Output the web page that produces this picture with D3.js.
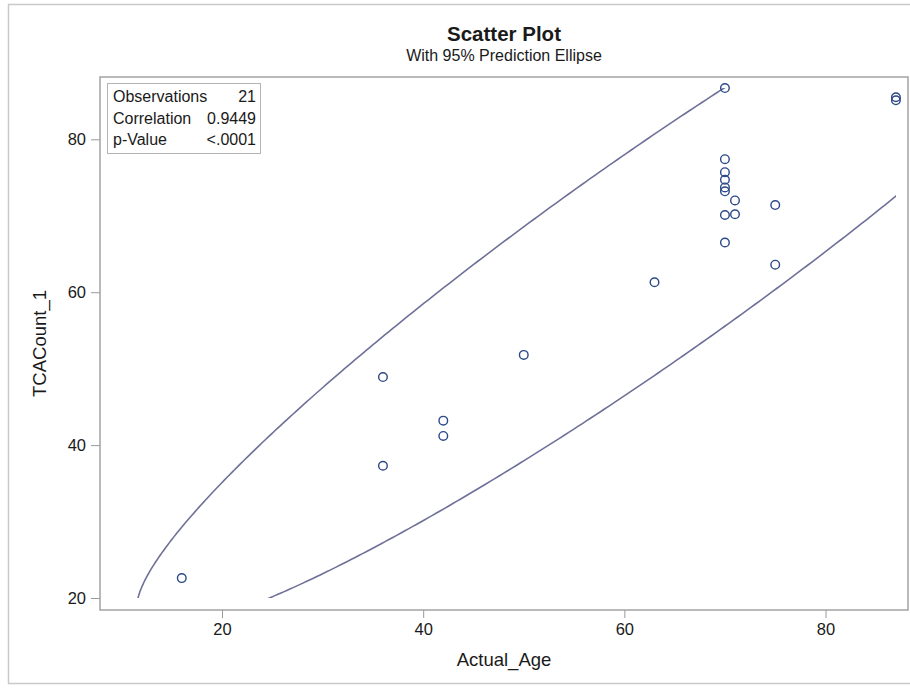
<!DOCTYPE html>
<html>
<head>
<meta charset="utf-8">
<script src="https://cdn.jsdelivr.net/npm/d3@7"></script>
<style>
  html, body { margin: 0; padding: 0; background: #fff; }
  svg { display: block; }
  text { font-family: Arial, "Liberation Sans", sans-serif; fill: #1a1a1a; }
</style>
</head>
<body>
<svg id="chart" width="910" height="688"></svg>
<script>
// Observations: Actual_Age vs TCACount_1
const actualAge = [16, 36, 36, 42, 42, 50, 63, 70, 70, 70, 70, 70, 70, 70, 70, 71, 71, 75, 75, 87, 87];
const tcaCount1 = [22.6, 48.9, 37.3, 43.2, 41.2, 51.8, 61.3, 86.7, 77.4, 75.7, 74.7, 73.7, 73.2, 70.1, 66.5, 72.0, 70.2, 71.4, 63.6, 85.5, 85.1];

const xTicks = [20, 40, 60, 80];
const yTicks = [20, 40, 60, 80];

const statLabels = ["Observations", "Correlation", "p-Value"];
const statValues = ["21", "0.9449", "<.0001"];

const titleText = "Scatter Plot";
const subtitleText = "With 95% Prediction Ellipse";
const xLabel = "Actual_Age";
const yLabel = "TCACount_1";

// F(0.95; 2, n-2) quantile for n = 21
const fQuantile = 3.5219;

const W = 910, H = 688;
const frame = { left: 100, right: 908, top: 77, bottom: 610 };

const svg = d3.select("#chart");

// outer graph border
svg.append("rect")
  .attr("x", 8.5).attr("y", 4.5)
  .attr("width", W + 10).attr("height", 679)
  .attr("fill", "#fff").attr("stroke", "#c9c9c9").attr("stroke-width", 1.5);

const x = d3.scaleLinear().domain([7.87, 88.2]).range([frame.left, frame.right]);
const y = d3.scaleLinear().domain([18.43, 88.15]).range([frame.bottom, frame.top]);

// titles
svg.append("text")
  .attr("x", (frame.left + frame.right) / 2).attr("y", 40.5)
  .attr("text-anchor", "middle")
  .style("font-size", "20.5px").style("font-weight", "bold")
  .text(titleText);
svg.append("text")
  .attr("x", (frame.left + frame.right) / 2).attr("y", 61)
  .attr("text-anchor", "middle")
  .style("font-size", "16px")
  .text(subtitleText);

// axes
const xAxis = d3.axisBottom(x).tickValues(xTicks).tickSize(8).tickPadding(5).tickSizeOuter(0);
const yAxis = d3.axisLeft(y).tickValues(yTicks).tickSize(9).tickPadding(5).tickSizeOuter(0);

const gx = svg.append("g").attr("transform", `translate(0,${frame.bottom})`).call(xAxis);
const gy = svg.append("g").attr("transform", `translate(${frame.left},0)`).call(yAxis);
[gx, gy].forEach(g => {
  g.select(".domain").remove();
  g.selectAll(".tick line").attr("stroke", "#999").attr("stroke-width", 1);
  g.selectAll(".tick text").style("font-size", "16.5px").attr("fill", "#1a1a1a");
});

// plot frame
svg.append("rect")
  .attr("x", frame.left).attr("y", frame.top)
  .attr("width", frame.right - frame.left).attr("height", frame.bottom - frame.top)
  .attr("fill", "none").attr("stroke", "#a3a3a3").attr("stroke-width", 1.5);

// axis labels
svg.append("text")
  .attr("x", (frame.left + frame.right) / 2).attr("y", 666)
  .attr("text-anchor", "middle")
  .style("font-size", "18.5px")
  .text(xLabel);
svg.append("text")
  .attr("transform", `translate(46,${(frame.top + frame.bottom) / 2}) rotate(-90)`)
  .attr("text-anchor", "middle")
  .style("font-size", "18.5px")
  .text(yLabel);

// 95% prediction ellipse from sample mean and covariance
const n = actualAge.length;
const mx = d3.mean(actualAge), my = d3.mean(tcaCount1);
let sxx = 0, syy = 0, sxy = 0;
for (let i = 0; i < n; i++) {
  const dx = actualAge[i] - mx, dy = tcaCount1[i] - my;
  sxx += dx * dx; syy += dy * dy; sxy += dx * dy;
}
sxx /= (n - 1); syy /= (n - 1); sxy /= (n - 1);
const c = 2 * (n - 1) * (n + 1) / (n * (n - 2)) * fQuantile;
const r = Math.sqrt(c);
// Cholesky factor of covariance
const l11 = Math.sqrt(sxx), l21 = sxy / l11, l22 = Math.sqrt(syy - l21 * l21);
const ellipse = d3.range(0, 721).map(k => {
  const t = k / 720 * 2 * Math.PI;
  const u = Math.cos(t), v = Math.sin(t);
  return [mx + r * l11 * u, my + r * (l21 * u + l22 * v)];
});

const clipId = "ellipse-clip";
svg.append("clipPath").attr("id", clipId)
  .append("rect")
  .attr("x", frame.left)
  .attr("y", y(d3.max(tcaCount1)))
  .attr("width", x(d3.max(actualAge)) - frame.left)
  .attr("height", y(yTicks[0]) - y(d3.max(tcaCount1)));

svg.append("path")
  .datum(ellipse)
  .attr("clip-path", `url(#${clipId})`)
  .attr("fill", "none")
  .attr("stroke", "#6e7098")
  .attr("stroke-width", 1.6)
  .attr("d", d3.line().x(d => x(d[0])).y(d => y(d[1])));

// observations
svg.append("g").selectAll("circle")
  .data(actualAge.map((a, i) => [a, tcaCount1[i]]))
  .join("circle")
  .attr("cx", d => x(d[0])).attr("cy", d => y(d[1]))
  .attr("r", 4.3)
  .attr("fill", "none")
  .attr("stroke", "#2b4888")
  .attr("stroke-width", 1.4);

// statistics inset
const inset = svg.append("g");
inset.append("rect")
  .attr("x", 107.5).attr("y", 83.5).attr("width", 153).attr("height", 70)
  .attr("fill", "#fff").attr("stroke", "#b3b3b3").attr("stroke-width", 1);
statLabels.forEach((s, i) => {
  inset.append("text").attr("x", 113).attr("y", 102 + i * 21.5)
    .style("font-size", "16px").text(s);
  inset.append("text").attr("x", 256).attr("y", 102 + i * 21.5)
    .attr("text-anchor", "end").style("font-size", "16px").text(statValues[i]);
});
</script>
</body>
</html>
